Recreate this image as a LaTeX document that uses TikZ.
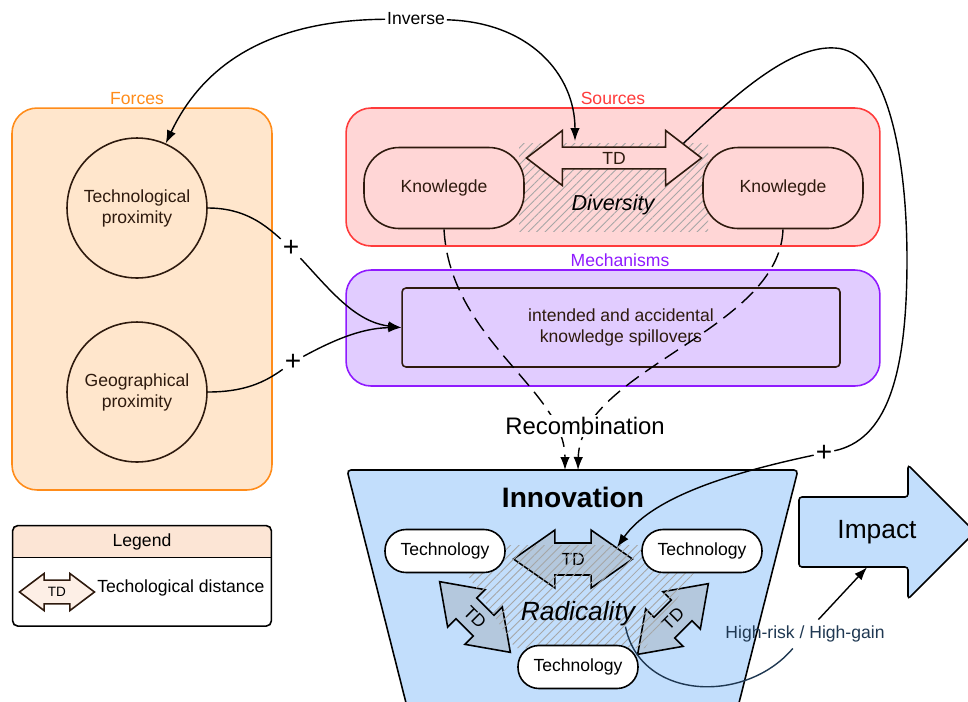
\documentclass[tikz,border=0pt]{standalone}
\usepackage{fontspec}
\setmainfont{Liberation Sans}
\usetikzlibrary{positioning,calc,shapes.arrows,arrows.meta,patterns.meta}
\definecolor{DMOrange}{HTML}{FF8C1A}
\definecolor{DMOrangeFill}{HTML}{FFE6CC}
\definecolor{DMRed}{HTML}{FF3B3B}
\definecolor{DMRedFill}{HTML}{FFD6D6}
\definecolor{DMViolet}{HTML}{8F1AFF}
\definecolor{DMVioletFill}{HTML}{E1CCFF}
\definecolor{DMBlueFill}{HTML}{C2DEFC}
\definecolor{DMBlueTD}{HTML}{B4C8DD}
\definecolor{DMBrown}{HTML}{2E1A0E}
\definecolor{DMPeach}{HTML}{FCE5D5}
\definecolor{DMNavy}{HTML}{1F3852}
\tikzset{
  dmGroup/.style={
    rounded corners=0.5cm,
    line width=0.9pt
  },
  dmGroupLabel/.style={
    font=\fontsize{10pt}{12pt}\selectfont,
    inner sep=1pt
  },
  dmForces/.style={
    dmGroup,
    draw=DMOrange,
    fill=DMOrangeFill,
    minimum width=5.2cm,
    minimum height=7.64cm
  },
  dmSources/.style={
    dmGroup,
    draw=DMRed,
    fill=DMRedFill,
    minimum width=10.68cm,
    minimum height=2.76cm
  },
  dmMech/.style={
    dmGroup,
    draw=DMViolet,
    fill=DMVioletFill,
    minimum width=10.68cm,
    minimum height=2.32cm
  },
  dmCircle/.style={
    circle,
    draw=DMBrown,
    fill=DMOrangeFill,
    line width=0.9pt,
    minimum size=2.8cm,
    text=DMBrown,
    align=center,
    inner sep=1pt
  },
  dmKnow/.style={
    draw=DMBrown,
    fill=DMRedFill,
    line width=0.9pt,
    rounded corners=0.7cm,
    minimum width=3.2cm,
    minimum height=1.62cm,
    text=DMBrown
  },
  dmSpill/.style={
    draw=DMBrown,
    fill=DMVioletFill,
    line width=0.9pt,
    rounded corners=0.08cm,
    minimum width=8.76cm,
    minimum height=1.58cm,
    align=center,
    text=DMBrown
  },
  dmTech/.style={
    draw=black,
    fill=white,
    line width=0.9pt,
    rounded corners=0.42cm,
    minimum width=2.4cm,
    minimum height=0.86cm
  },
  dmTD/.style={
    double arrow,
    draw=black,
    fill=DMBlueTD,
    line width=0.9pt,
    inner sep=1pt,
    double arrow tip angle=70,
    double arrow head extend=0.14cm,
    minimum height=2.38cm,
    minimum width=1.16cm
  },
  dmHatch/.style={
    pattern={Lines[angle=45,distance=3.4pt,line width=0.5pt]},
    pattern color=black!35
  },
  dmLine/.style={
    line width=0.8pt
  },
  dmArrow/.style={
    line width=0.8pt,
    -{Latex[length=2.6mm,width=1.9mm]}
  },
  dmDash/.style={
    dmArrow,
    dash pattern=on 9pt off 4.5pt
  },
  dmPlus/.style={
    font=\fontsize{16pt}{16pt}\selectfont,
    inner sep=1pt
  }
}
\begin{document}
\begin{tikzpicture}[x=0.02cm, y=-0.02cm]
  \useasboundingbox (0,0) rectangle (968,701);
  \clip (0,0) rectangle (968,701);

  % Forces
  \node (forces) [dmForces] at (142,299) {};
  \node (forcesLbl) [dmGroupLabel, text=DMOrange, above=0pt of forces.north, xshift=-0.1cm] {Forces};
  \node (techProx) [dmCircle] at (137,208) {Technological\\proximity};
  \node (geoProx) [dmCircle] at (137,392) {Geographical\\proximity};

  % Sources
  \node (sources) [dmSources] at (613,177) {};
  \node (sourcesLbl) [dmGroupLabel, text=DMRed, above=0pt of sources.north] {Sources};
  \path[dmHatch] (519,143) rectangle (708,231);
  \node (tdSrc) [dmTD, fill=DMRedFill, draw=DMBrown, text=DMBrown, double arrow tip angle=75,
    double arrow head extend=0.26cm, minimum height=3.5cm, minimum width=1.1cm] at (614,158) {TD};
  \node (knowL) [dmKnow] at (444,188) {Knowlegde};
  \node (knowR) [dmKnow] at (783,188) {Knowlegde};
  \node (diversity) [font=\fontsize{12.3pt}{14pt}\selectfont\itshape] at (613,205) {Diversity};

  % Mechanisms
  \node (mech) [dmMech] at (613,328) {};
  \node (mechLbl) [dmGroupLabel, text=DMViolet, above=0pt of mech.north, xshift=0.14cm] {Mechanisms};
  \node (spill) [dmSpill] at (621,327.5) {intended and accidental\\knowledge spillovers};

  % Innovation
  \path[fill=DMBlueFill, draw=black, line width=0.9pt, rounded corners=0.08cm]
    (347,470) -- (798,470) -- (722,770) -- (423,770) -- cycle;
  \coordinate (innL) at (565,470);
  \coordinate (innR) at (578,470);
  \node (innovLbl) [font=\fontsize{16pt}{18pt}\selectfont\bfseries] at (573,497) {Innovation};
  \node (tdInn) [dmTD] at (573,559) {TD};
  \node (tdLeft) [dmTD, rotate=-45, minimum height=2.0cm, minimum width=1.06cm] at (475,617) {TD};
  \node (tdRight) [dmTD, rotate=45, minimum height=2.0cm, minimum width=1.06cm] at (673,619) {TD};
  \path[dmHatch] (448,545) -- (712,545) -- (645,648) -- (515,648) -- cycle;
  \node (techL) [dmTech] at (445,551) {Technology};
  \node (techR) [dmTech] at (702,551) {Technology};
  \node (techB) [dmTech] at (578,667) {Technology};
  \node (radLbl) [inner sep=0pt, font=\fontsize{15pt}{18pt}\selectfont\itshape] at (578,614) {Radicality};
  \node (hrLbl) [text=DMNavy] at (805,634) {High-risk / High-gain};

  % Impact
  \path[fill=DMBlueFill, draw=black, line width=0.9pt, rounded corners=0.06cm]
    (799,497) -- (908,497) -- (908,465) -- (975,532) -- (908,599) -- (908,567) -- (799,567) -- cycle;
  \node (impact) [font=\fontsize{15pt}{18pt}\selectfont, minimum height=1.4cm] at (877,532) {Impact};

  % Legend
  \node (legHead) [fill=DMPeach, minimum width=5.16cm, minimum height=0.62cm, inner sep=0pt] at (142,541.5) {Legend};
  \node (legBody) [below=0pt of legHead, minimum width=5.16cm, minimum height=1.36cm, inner sep=0pt] {};
  \draw[line width=0.9pt, rounded corners=0.1cm] (legHead.north west) rectangle (legBody.south east);
  \draw[line width=0.9pt] (legHead.south west) -- (legHead.south east);
  \node (legTD) [dmTD, fill=DMPeach!60, draw=DMBrown, font=\fontsize{7.7pt}{9pt}\selectfont, double arrow tip angle=74,
    double arrow head extend=0.08cm, minimum height=1.5cm, minimum width=0.74cm] at (57,592) {TD};
  \node (legText) [anchor=west, inner sep=0pt] at (97,588) {Techological distance};

  % Verbindungen
  \node (inverseLbl) [fill=white, inner sep=1pt] at (416,19) {Inverse};
  \draw[dmArrow] (inverseLbl) .. controls (290,20) and (210,50) .. (techProx.66);
  \draw[dmArrow] (inverseLbl) .. controls (530,22) and (575,75) .. ($(tdSrc.center)+(-39,-17)$);

  \node (plusTech) [dmPlus] at (291,248) {+};
  \node (plusGeo) [dmPlus] at (293,362) {+};
  \draw[dmLine] (techProx.east) .. controls (245,208) and (265,225) .. (plusTech);
  \draw[dmArrow] (plusTech) .. controls (330,290) and (355,322) .. (spill.west);
  \draw[dmLine] (geoProx.east) .. controls (245,392) and (265,382) .. (plusGeo);
  \draw[dmArrow] (plusGeo) .. controls (330,342) and (360,328) .. (spill.west);

  \node (plusInn) [dmPlus] at (824,453) {+};
  \draw[dmLine] (tdSrc.12) .. controls (735,95) and (790,45) .. (835,48)
    .. controls (885,50) and (907,150) .. (907,260)
    .. controls (907,380) and (885,440) .. (plusInn);
  \draw[dmArrow] (plusInn) .. controls (720,475) and (650,500) .. (tdInn.15);

  \draw[dmDash] (knowL.south) .. controls (450,340) and (565,390) .. (innL);
  \draw[dmDash] (knowR.south) .. controls (780,330) and (580,370) .. (innR);
  \node (recomb) [fill=white, inner sep=1pt, font=\fontsize{13.6pt}{16pt}\selectfont] at (585,426) {Recombination};

  \draw[dmLine, draw=DMNavy] ([xshift=-0.2cm]radLbl.south east) .. controls (640,700) and (745,705) .. (hrLbl);
  \draw[dmArrow] (hrLbl) -- ([xshift=-0.2cm]impact.south);
\end{tikzpicture}
\end{document}
